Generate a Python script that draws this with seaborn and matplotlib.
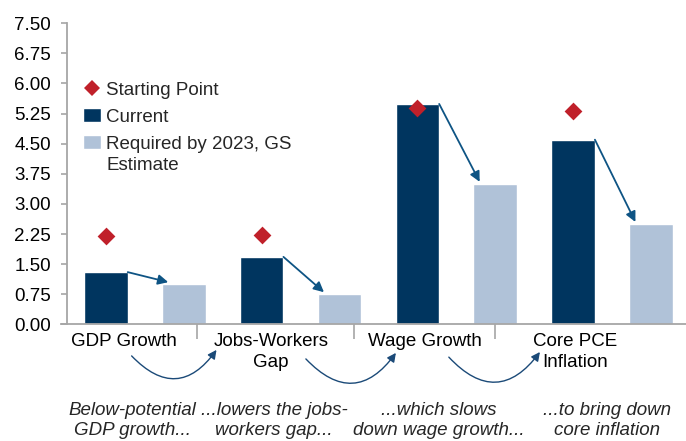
import numpy as np
import pandas as pd
import matplotlib
matplotlib.use("Agg")
import matplotlib.pyplot as plt
from matplotlib.lines import Line2D
from matplotlib.patches import Patch
import seaborn as sns

# DATA
categories = ["GDP Growth", "Jobs-Workers\nGap", "Wage Growth", "Core PCE\nInflation"]
current = [1.30, 1.68, 5.49, 4.60]
required = [1.00, 0.75, 3.50, 2.50]
starting_point = [2.21, 2.23, 5.38, 5.31]
captions = ["Below-potential\nGDP growth...", "...lowers the jobs-\nworkers gap...",
            "...which slows\ndown wage growth...", "...to bring down\ncore inflation"]
yticks = [0.00, 0.75, 1.50, 2.25, 3.00, 3.75, 4.50, 5.25, 6.00, 6.75, 7.50]

# COLOURS
navy = "#00355F"
light = "#B0C2D8"
red = "#C0202A"
arrow_col = "#0E5484"
curve_col = "#1B4A78"

sns.set_style("white")
plt.rcParams["font.family"] = ["Liberation Sans", "DejaVu Sans"]
fs = 13.5

df = pd.DataFrame({
    "category": categories * 2,
    "series": ["Current"] * 4 + ["Required"] * 4,
    "value": current + required,
})

fig = plt.figure(figsize=(6.86, 4.41), dpi=100)
ax = fig.add_axes([67 / 686, 0.2646, 1 - 67 / 686, 0.6826])

sns.barplot(data=df, x="category", y="value", hue="series",
            palette={"Current": navy, "Required": light},
            width=1.0, gap=0.44, legend=False, ax=ax, saturation=1)

pos = np.arange(len(categories))
ax.scatter(pos - 0.25, starting_point, marker="D", s=82, color=red, zorder=5, linewidths=0)

# straight arrows current -> required
for i in range(len(categories)):
    ax.annotate("", xy=(i + 0.15, required[i] + 0.05), xytext=(i - 0.11, current[i]),
                arrowprops=dict(arrowstyle="-|>", color=arrow_col, lw=1.3,
                                mutation_scale=15, shrinkA=0, shrinkB=0))

ax.set_xlim(-0.5, 3.475)
ax.set_ylim(0, 7.5)
ax.set_yticks(yticks)
ax.set_yticklabels([f"{t:.2f}" for t in yticks], fontsize=fs)
ax.set_xlabel("")
ax.set_ylabel("")

# category labels (major ticks) and separators (minor ticks)
label_x = [-0.135, 0.81, 1.80, 2.76]
ax.set_xticks(label_x)
ax.set_xticklabels(categories, fontsize=fs, linespacing=1.3)
ax.set_xticks([0.334, 1.342, 2.248], minor=True)
ax.tick_params(axis="x", which="major", length=0, pad=6, colors="black")
ax.tick_params(axis="x", which="minor", length=11, width=1.2, color="#A6A6A6", direction="out", bottom=True)
ax.tick_params(axis="y", length=4.5, width=1.2, color="#A6A6A6", pad=7, left=True, labelcolor="black")

for s in ["top", "right"]:
    ax.spines[s].set_visible(False)
for s in ["left", "bottom"]:
    ax.spines[s].set_color("#A6A6A6")
    ax.spines[s].set_linewidth(1.3)
ax.spines["bottom"].set_bounds(-0.54, 3.475)

# curved arrows between labels
trans = ax.get_xaxis_transform()
curve_start = [(-0.085, -0.105), (1.034, -0.115), (1.952, -0.109)]
curve_end = [(0.46, -0.085), (1.612, -0.095), (2.537, -0.092)]
for (x0, y0), (x1, y1) in zip(curve_start, curve_end):
    ax.annotate("", xy=(x1, y1), xytext=(x0, y0), xycoords=trans, textcoords=trans,
                annotation_clip=False,
                arrowprops=dict(arrowstyle="-|>", color=curve_col, lw=1.0, mutation_scale=13,
                                shrinkA=0, shrinkB=0, connectionstyle="arc3,rad=0.6"))

# captions
caption_x = [-0.08, 0.83, 1.89, 2.97]
for x, txt in zip(caption_x, captions):
    ax.text(x, -0.258, txt, transform=trans, ha="center", va="top", fontsize=fs,
            style="italic", linespacing=1.2)

# legend
handles = [
    Line2D([], [], marker="D", color=red, linestyle="none", markersize=8, markeredgewidth=0),
    Patch(facecolor=navy),
    Patch(facecolor=light),
]
labels = ["Starting Point", "Current", "Required by 2023, GS"]
leg = ax.legend(handles, labels, loc="upper left", bbox_to_anchor=(83 / 686, 1 - 81 / 441),
                bbox_transform=fig.transFigure, frameon=False, fontsize=fs, borderpad=0,
                handlelength=0.95, handleheight=0.8, handletextpad=0.3, labelspacing=0.5,
                borderaxespad=0)
fig.text(107 / 686, 1 - 165 / 441, "Estimate", fontsize=fs, ha="left", va="center")

fig.savefig("out.png", dpi=100)
